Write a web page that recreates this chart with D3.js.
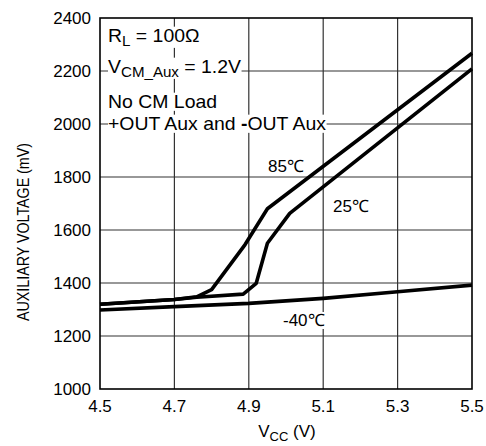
<!DOCTYPE html>
<html><head><meta charset="utf-8">
<script src="https://cdn.jsdelivr.net/npm/d3@7"></script>
<style>body{margin:0;background:#fff}svg text{font-family:"Liberation Sans",Arial,Helvetica,sans-serif;fill:#000}</style>
</head><body><svg id="c" width="486" height="446"></svg>
<script>
const xTicks = [4.5, 4.7, 4.9, 5.1, 5.3, 5.5];
const yTicks = [1000, 1200, 1400, 1600, 1800, 2000, 2200, 2400];
const vccM40 = [4.5, 4.7, 4.9, 5.1, 5.3, 5.5];
const mvM40  = [1298, 1311, 1323, 1342, 1367, 1392];
const vcc25  = [4.5, 4.7, 4.76, 4.885, 4.92, 4.95, 5.01, 5.5];
const mv25   = [1320, 1338, 1346, 1358, 1399, 1550, 1663, 2208];
const vcc85  = [4.5, 4.7, 4.76, 4.80, 4.89, 4.95, 5.5];
const mv85   = [1320, 1338, 1348, 1375, 1545, 1680, 2267];
const seriesLabels = ["85\u2103", "25\u2103", "-40\u2103"];

const svg = d3.select("#c");
const L = 100, R = 472, T = 18, B = 389;
const x = d3.scaleLinear().domain([4.5, 5.5]).range([L, R]);
const y = d3.scaleLinear().domain([1000, 2400]).range([B, T]);

// grid
const g = svg.append("g");
g.selectAll(".vx").data(xTicks.slice(1, -1)).join("line")
  .attr("x1", d => x(d)).attr("x2", d => x(d)).attr("y1", T).attr("y2", B)
  .attr("stroke", "#333").attr("stroke-width", 1.2);
g.selectAll(".hy").data(yTicks.slice(1, -1)).join("line")
  .attr("y1", d => y(d)).attr("y2", d => y(d)).attr("x1", L).attr("x2", R)
  .attr("stroke", "#333").attr("stroke-width", 1.2);

// lines
const line = d3.line().x(d => x(d[0])).y(d => y(d[1]));
[[vccM40, mvM40], [vcc25, mv25], [vcc85, mv85]].forEach(([xs, ys]) => {
  svg.append("path").datum(xs.map((v, i) => [v, ys[i]]))
    .attr("d", line).attr("fill", "none").attr("stroke", "#000")
    .attr("stroke-width", 3.6).attr("stroke-linejoin", "round");
});

// texts with white background
function label(xp, yp, build, size, sx) {
  const grp = svg.append("g").attr("transform", `translate(${xp},${yp}) scale(${sx || 1},1)`);
  const bg = grp.append("rect").attr("fill", "#fff");
  const t = grp.append("text").attr("x", 0).attr("y", 0).attr("font-size", size);
  build(t);
  const bb = t.node().getBBox();
  bg.attr("x", bb.x).attr("y", bb.y + 1).attr("width", bb.width).attr("height", bb.height - 2);
  return t;
}
const S = 1.08;
label(108, 42, t => {
  t.append("tspan").text("R");
  t.append("tspan").attr("dy", 4).attr("font-size", 14).text("L");
  t.append("tspan").attr("dy", -4).text(" = 100\u03A9");
}, 18, S);
label(108, 73, t => {
  t.append("tspan").text("V");
  t.append("tspan").attr("dy", 4).attr("font-size", 14).text("CM_Aux");
  t.append("tspan").attr("dy", -4).text(" = 1.2V");
}, 18, S);
label(108, 108, t => t.text("No CM Load"), 18, S);
label(108, 130, t => {
  t.append("tspan").text("+OUT Aux and ");
  t.append("tspan").attr("font-weight", "bold").text("-");
  t.append("tspan").text("OUT Aux");
}, 18, S);
label(268, 172, t => t.text(seriesLabels[0]), 17);
label(333, 212, t => t.text(seriesLabels[1]), 17);
label(283, 326, t => t.text(seriesLabels[2]), 17);

// frame
svg.append("rect").attr("x", L).attr("y", T).attr("width", R - L).attr("height", B - T)
  .attr("fill", "none").attr("stroke", "#000").attr("stroke-width", 1.6);

// tick labels
svg.selectAll(".yl").data(yTicks).join("text")
  .attr("x", 91).attr("y", d => y(d) + 6).attr("text-anchor", "end")
  .attr("font-size", 17).text(d => d);
svg.selectAll(".xl").data(xTicks).join("text")
  .attr("x", d => x(d)).attr("y", 412).attr("text-anchor", "middle")
  .attr("font-size", 17).text(d => d3.format(".1f")(d));

// axis titles
const xt = svg.append("text").attr("x", 287).attr("y", 437).attr("text-anchor", "middle").attr("font-size", 17);
xt.append("tspan").text("V");
xt.append("tspan").attr("dy", 4).attr("font-size", 13).text("CC");
xt.append("tspan").attr("dy", -4).text(" (V)");
svg.append("text").attr("transform", "translate(29,232) rotate(-90)")
  .attr("text-anchor", "middle").attr("font-size", 16)
  .attr("textLength", 178).attr("lengthAdjust", "spacingAndGlyphs")
  .text("AUXILIARY VOLTAGE (mV)");
</script></body></html>
